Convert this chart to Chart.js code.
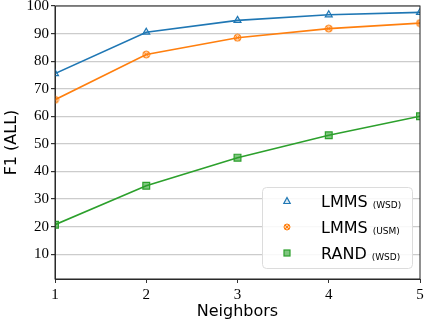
<!DOCTYPE html>
<html lang="en">
<head>
  <meta charset="UTF-8" />
  <title>F1 vs Neighbors</title>
  <script src="https://cdn.jsdelivr.net/npm/chart.js"></script>
  <style>
    body { margin: 0; background: #fff; }
    #wrap { position: relative; width: 426px; height: 322px; }
  </style>
</head>
<body>
  <div id="wrap"><canvas id="grafico"></canvas></div>

  <script>
    // values
    const neighbors = [1, 2, 3, 4, 5];
    const lmmsWsd = [75.5, 90.5, 94.8, 96.8, 97.7];
    const lmmsUsm = [66.0, 82.4, 88.5, 91.8, 93.8];
    const randWsd = [20.7, 34.8, 45.0, 53.1, 60.0];
    const seriesNames = ["LMMS", "LMMS", "RAND"];
    const seriesTags = ["(WSD)", "(USM)", "(WSD)"];
    const yTicks = [10, 20, 30, 40, 50, 60, 70, 80, 90, 100];

    const azul = "#1f77b4";
    const naranja = "#ff7f0e";
    const verde = "#2ca02c";

    // circle with an x inside, used as point style for the USM series
    function circuloX(r) {
      const c = document.createElement("canvas");
      const s = Math.ceil(r * 2 + 2);
      c.width = s; c.height = s;
      const g = c.getContext("2d");
      const m = s / 2;
      g.beginPath();
      g.arc(m, m, r, 0, Math.PI * 2);
      g.fillStyle = "rgba(255,127,14,0.35)";
      g.fill();
      g.lineWidth = 1;
      g.strokeStyle = naranja;
      g.stroke();
      const d = r * 0.7;
      g.beginPath();
      g.moveTo(m - d, m - d); g.lineTo(m + d, m + d);
      g.moveTo(m + d, m - d); g.lineTo(m - d, m + d);
      g.stroke();
      return c;
    }

    const puntos = (ys) => neighbors.map((x, i) => ({ x: x, y: ys[i] }));

    const marco = {
      id: "marco",
      afterDraw(chart) {
        const { ctx, chartArea: a } = chart;
        ctx.save();
        ctx.strokeStyle = "#222";
        ctx.lineWidth = 1;
        ctx.strokeRect(a.left, a.top, a.right - a.left, a.bottom - a.top);
        ctx.restore();
      },
    };

    const leyenda = {
      id: "leyenda",
      afterDraw(chart) {
        const { ctx, chartArea: a } = chart;
        const w = 150, h = 81;
        const x0 = a.right - 8 - w, y0 = a.bottom - 11 - h;
        ctx.save();
        ctx.beginPath();
        ctx.roundRect(x0 + 0.5, y0 + 0.5, w, h, 4);
        ctx.fillStyle = "rgba(255,255,255,0.85)";
        ctx.fill();
        ctx.strokeStyle = "#dcdcdc";
        ctx.lineWidth = 1;
        ctx.stroke();

        const colores = [azul, naranja, verde];
        for (let i = 0; i < seriesNames.length; i++) {
          const cy = y0 + 14 + i * 26;
          const mx = x0 + 25;
          ctx.lineWidth = 1.2;
          ctx.strokeStyle = colores[i];
          if (i === 0) {
            ctx.beginPath();
            ctx.moveTo(mx, cy - 3.5);
            ctx.lineTo(mx + 3.2, cy + 2.5);
            ctx.lineTo(mx - 3.2, cy + 2.5);
            ctx.closePath();
            ctx.fillStyle = "rgba(31,119,180,0.15)";
            ctx.fill();
            ctx.stroke();
          } else if (i === 1) {
            ctx.drawImage(circuloX(3), mx - 4, cy - 4);
          } else {
            ctx.fillStyle = "rgba(44,160,44,0.6)";
            ctx.fillRect(mx - 3, cy - 3, 6, 6);
            ctx.strokeRect(mx - 3, cy - 3, 6, 6);
          }
          ctx.fillStyle = "#000";
          ctx.textBaseline = "alphabetic";
          ctx.font = "16px 'DejaVu Sans'";
          const tx = x0 + 59;
          ctx.fillText(seriesNames[i], tx, cy + 6);
          const tw = ctx.measureText(seriesNames[i]).width;
          ctx.font = "9px 'DejaVu Sans'";
          ctx.fillText(seriesTags[i], tx + tw + 5, cy + 7);
        }
        ctx.restore();
      },
    };

    const ctx = document.getElementById("grafico").getContext("2d");

    new Chart(ctx, {
      type: "line",
      data: {
        datasets: [
          {
            label: seriesNames[0] + " " + seriesTags[0],
            data: puntos(lmmsWsd),
            borderColor: azul,
            backgroundColor: "rgba(31,119,180,0.15)",
            borderWidth: 1.6,
            pointStyle: "triangle",
            pointRadius: 4,
            pointBorderWidth: 1.2,
          },
          {
            label: seriesNames[1] + " " + seriesTags[1],
            data: puntos(lmmsUsm),
            borderColor: naranja,
            backgroundColor: "rgba(255,127,14,0.35)",
            borderWidth: 1.6,
            pointStyle: circuloX(3.5),
            pointRadius: 4,
          },
          {
            label: seriesNames[2] + " " + seriesTags[2],
            data: puntos(randWsd),
            borderColor: verde,
            backgroundColor: "rgba(44,160,44,0.6)",
            borderWidth: 1.6,
            pointStyle: "rect",
            pointRadius: 4.8,
            pointBorderWidth: 1.2,
          },
        ],
      },
      options: {
        responsive: true,
        maintainAspectRatio: false,
        animation: false,
        layout: { padding: { top: 5, right: 5, left: 0, bottom: 0 } },
        scales: {
          x: {
            type: "linear",
            min: 1,
            max: 5,
            afterFit(scale) {
              scale.height = 43;
              scale.paddingLeft = 0;
              scale.paddingRight = 0;
            },
            ticks: {
              stepSize: 1,
              color: "#000",
              padding: 3,
              font: { family: "'Liberation Serif'", size: 15 },
            },
            grid: {
              drawOnChartArea: false,
              drawTicks: true,
              tickLength: 4,
              tickColor: "#333",
            },
            border: { color: "#333", width: 1 },
            title: {
              display: true,
              text: "Neighbors",
              color: "#000",
              padding: { top: 0, bottom: 1 },
              font: { family: "'DejaVu Sans'", size: 16 },
            },
          },
          y: {
            min: 1,
            max: 100,
            afterFit(scale) {
              scale.width = 55;
              scale.paddingTop = 0;
              scale.paddingBottom = 0;
            },
            afterBuildTicks(scale) {
              scale.ticks = yTicks.map((v) => ({ value: v }));
            },
            ticks: {
              color: "#000",
              padding: 2,
              font: { family: "'Liberation Serif'", size: 15 },
            },
            grid: {
              color: "#cccccc",
              lineWidth: 1.2,
              drawTicks: true,
              tickLength: 4,
              tickColor: "#333",
            },
            border: { color: "#333", width: 1 },
            title: {
              display: true,
              text: "F1 (ALL)",
              color: "#000",
              padding: { top: 2, bottom: 0 },
              font: { family: "'DejaVu Sans'", size: 16 },
            },
          },
        },
        plugins: {
          legend: { display: false },
          tooltip: { enabled: false },
        },
      },
      plugins: [marco, leyenda],
    });
  </script>
</body>
</html>
